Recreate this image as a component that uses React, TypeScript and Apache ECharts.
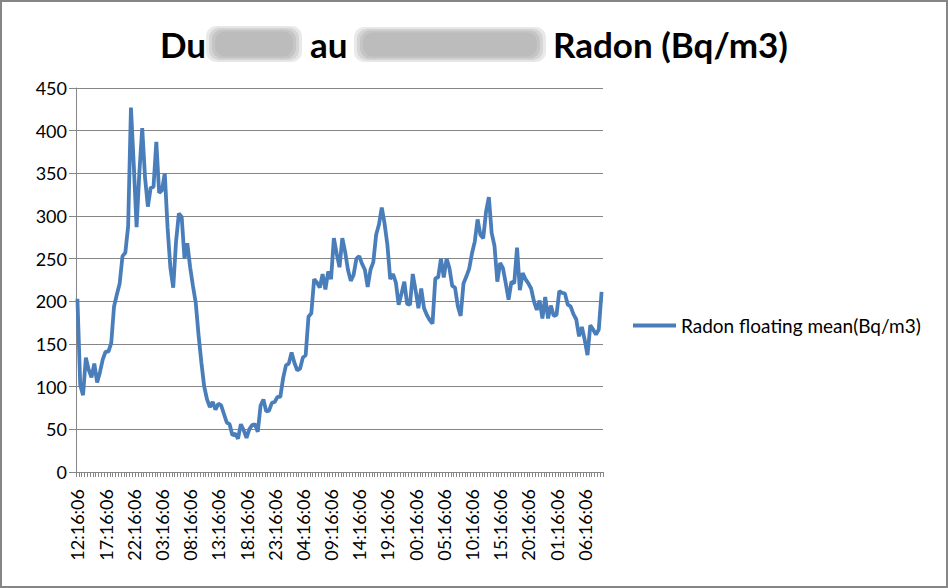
import React, { useEffect, useRef } from "react";
import * as echarts from "echarts";

// Radon floating mean (Bq/m3), one reading every 30 minutes starting 12:16:06
const radonValues: number[] = [
  203, 102, 90, 134, 120, 111, 127, 105, 117, 132,
  141, 141, 151, 194, 208, 221, 253, 257, 288, 427,
  360, 287, 352, 403, 345, 311, 333, 334, 387, 327,
  330, 350, 286, 239, 216, 270, 303, 299, 250, 268,
  240, 218, 198, 160, 128, 100, 85, 76, 82, 73,
  80, 78, 68, 58, 56, 43, 45, 39, 56, 49,
  40, 50, 55, 56, 47, 78, 85, 71, 72, 81,
  82, 88, 88, 110, 125, 127, 140, 128, 119, 121,
  134, 137, 182, 186, 226, 222, 216, 232, 214, 235,
  226, 274, 256, 240, 274, 258, 237, 224, 231, 250,
  253, 244, 237, 217, 237, 246, 278, 290, 310, 291,
  266, 226, 232, 222, 196, 209, 223, 197, 196, 232,
  213, 192, 215, 192, 184, 178, 174, 227, 228, 250,
  228, 250, 239, 218, 216, 194, 183, 221, 229, 238,
  256, 270, 296, 278, 274, 305, 322, 280, 265, 223,
  245, 239, 221, 202, 223, 221, 263, 213, 233, 226,
  221, 215, 200, 190, 201, 180, 205, 180, 195, 183,
  184, 212, 210, 209, 196, 194, 185, 179, 159, 170,
  155, 137, 172, 167, 161, 167, 211,
];

const START_HOUR = 12;
const START_MINUTE = 16;
const STEP_MINUTES = 30;
const pad = (n: number) => (n < 10 ? "0" + n : "" + n);
const timeLabels: string[] = radonValues.map((_, i) => {
  const mins = START_MINUTE + i * STEP_MINUTES;
  const h = (START_HOUR + Math.floor(mins / 60)) % 24;
  const m = mins % 60;
  return `${pad(h)}:${pad(m)}:06`;
});

const Y_MIN = 0;
const Y_MAX = 450;
const Y_STEP = 50;

const SERIES_NAME = "Radon floating mean(Bq/m3)";
const TITLE_PARTS = ["Du", "au", "Radon (Bq/m3)"];

const FONT = "Lato, 'Liberation Sans', sans-serif";
const AXIS_GRAY = "#868686";
const LINE_BLUE = "#4a7ebb";

// soft "blurred" patch made of layered translucent rounded rects
function blurPatch(x: number, y: number, w: number, h: number) {
  const layers = [
    { inset: 0, op: 0.25 },
    { inset: 3, op: 0.3 },
    { inset: 6, op: 0.35 },
    { inset: 9, op: 0.3 },
  ];
  return layers.map((l) => ({
    type: "rect",
    silent: true,
    shape: {
      x: x + l.inset,
      y: y + l.inset * 0.6,
      width: w - 2 * l.inset,
      height: h - 1.2 * l.inset,
      r: 10,
    },
    style: { fill: "#a8a8a8", opacity: l.op },
  }));
}

export default function App() {
  const ref = useRef<HTMLDivElement>(null);

  useEffect(() => {
    if (!ref.current) return;
    const chart = echarts.init(ref.current, undefined, { renderer: "svg" });
    const titleText = (text: string, x: number) => ({
      type: "text",
      x,
      y: 44,
      style: {
        text,
        fill: "#000",
        fontFamily: FONT,
        fontWeight: "bold",
        fontSize: 35,
        align: "left",
        verticalAlign: "middle",
      },
    });
    chart.setOption({
      animation: false,
      backgroundColor: "#ffffff",
      color: [LINE_BLUE],
      grid: { left: 76, right: 345, top: 88, bottom: 116, containLabel: false },
      xAxis: {
        type: "category",
        data: timeLabels,
        boundaryGap: true,
        axisLine: { show: true, lineStyle: { color: AXIS_GRAY, width: 1 } },
        axisTick: { show: true, interval: 0, length: 5, lineStyle: { color: AXIS_GRAY } },
        axisLabel: {
          interval: 9,
          rotate: 90,
          margin: 17,
          color: "#000",
          fontFamily: FONT,
          fontSize: 18,
        },
        splitLine: { show: false },
      },
      yAxis: {
        type: "value",
        min: Y_MIN,
        max: Y_MAX,
        interval: Y_STEP,
        axisLine: { show: true, lineStyle: { color: AXIS_GRAY, width: 1 } },
        axisTick: { show: true, length: 7, lineStyle: { color: AXIS_GRAY } },
        axisLabel: { margin: 9, color: "#000", fontFamily: FONT, fontSize: 18 },
        splitLine: { show: true, lineStyle: { color: AXIS_GRAY, width: 1 } },
      },
      legend: {
        left: 628,
        top: 311,
        padding: 5,
        itemWidth: 43,
        itemHeight: 4,
        icon: "rect",
        data: [SERIES_NAME],
        textStyle: { fontFamily: FONT, fontSize: 19, color: "#000" },
      },
      series: [
        {
          type: "line",
          name: SERIES_NAME,
          data: radonValues,
          symbol: "none",
          showSymbol: false,
          lineStyle: { color: LINE_BLUE, width: 3.8 },
          itemStyle: { color: LINE_BLUE },
        },
      ],
      graphic: [
        {
          type: "rect",
          silent: true,
          shape: { x: 1, y: 1, width: 946, height: 586 },
          style: { fill: "none", stroke: AXIS_GRAY, lineWidth: 2 },
        },
        ...blurPatch(206, 26, 96, 36),
        ...blurPatch(354, 27, 192, 35),
        titleText(TITLE_PARTS[0], 160),
        titleText(TITLE_PARTS[1], 310),
        titleText(TITLE_PARTS[2], 553),
      ],
    });
    return () => {
      chart.dispose();
    };
  }, []);

  return (
    <div
      ref={ref}
      style={{ position: "absolute", left: 0, top: 0, width: 948, height: 588, background: "#fff" }}
    />
  );
}
